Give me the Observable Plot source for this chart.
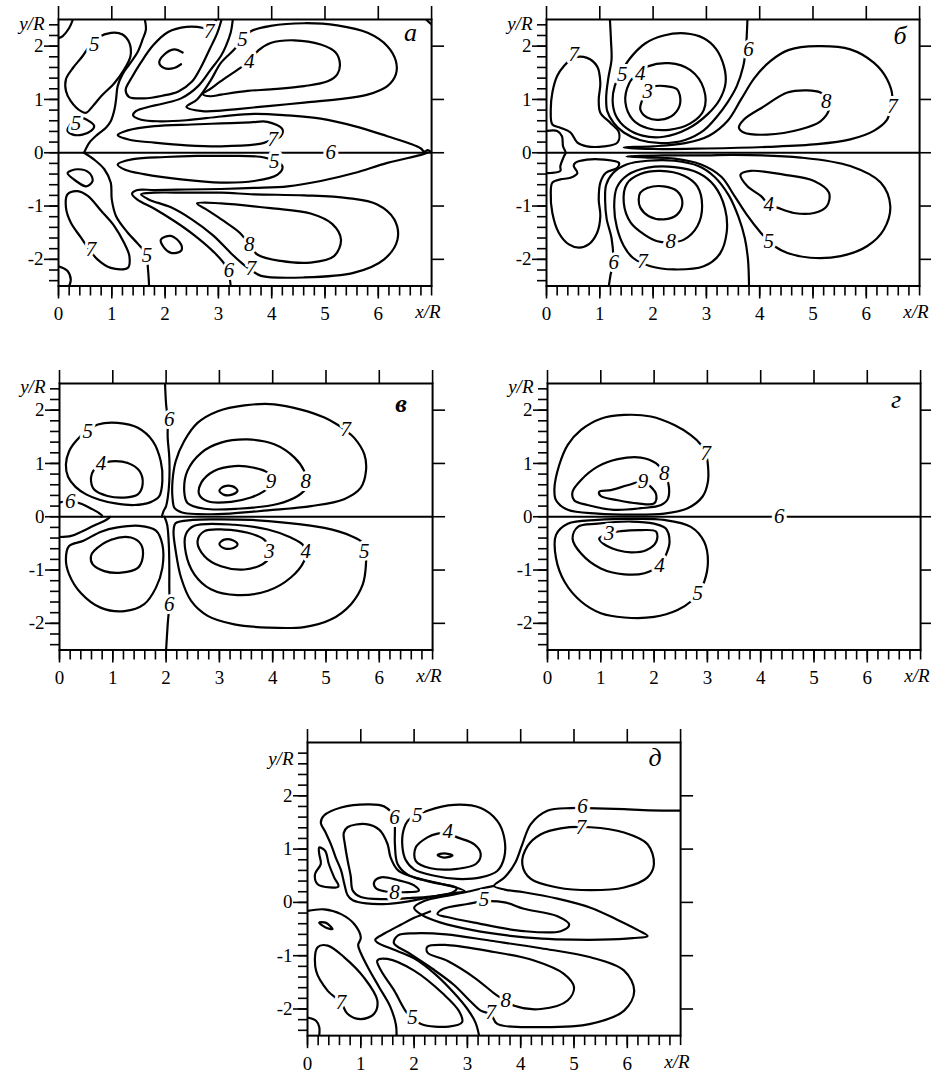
<!DOCTYPE html>
<html><head><meta charset="utf-8">
<script src="https://cdn.jsdelivr.net/npm/d3@7"></script>
<script src="https://cdn.jsdelivr.net/npm/@observablehq/plot@0.6"></script>
<style>
body{margin:0;background:#fff}
#wrap{position:relative;width:931px;height:1074px;background:#fff;overflow:hidden}
#wrap svg{position:absolute}
#wrap svg text{font-family:'Liberation Serif','Times New Roman',serif}
</style></head><body><div id="wrap"></div>
<script>
// ---- axis ticks ----
const xMajor = [0,1,2,3,4,5,6];
const xTop = [0,1,2,3,4,5,6,7];
const yMajor = [-2,-1,0,1,2];

// ---- contour lines: [closed, [x0,y0,x1,y1,...]] ; labels: [x,y,text] ----
const linesA = [
 [0,[0.27,2.5, 0.2,2.34, 0.08,2.19, 0,2.15]],
 [0,[6.9,2.5, 6.96,2.44, 7.0,2.41]],
 [1,[0.985,2.25, 1.2,2.22, 1.33,2.06, 1.35,1.81, 1.23,1.56, 1.05,1.31, 0.8,1.06, 0.64,0.87, 0.52,0.75, 0.42,0.78, 0.23,0.97, 0.14,1.16, 0.14,1.38, 0.27,1.59, 0.45,1.81, 0.58,2.0, 0.74,2.16]],
 [1,[0.42,0.66, 0.58,0.59, 0.67,0.5, 0.61,0.41, 0.45,0.34, 0.27,0.34, 0.17,0.41, 0.2,0.5, 0.3,0.6]],
 [0,[0.48,0.0, 0.58,0.19, 0.73,0.34, 0.89,0.47, 0.98,0.59, 1.05,0.81, 1.08,1.0, 1.11,1.25, 1.2,1.47, 1.33,1.66, 1.48,1.88, 1.58,2.13, 1.64,2.31, 1.62,2.5]],
 [0,[2.96,2.5, 2.9,2.38, 2.83,2.3, 2.72,2.34, 2.4,2.36, 2.05,2.26, 1.78,2.02, 1.55,1.7, 1.38,1.42, 1.26,1.18, 1.32,1.05, 1.6,1.02, 1.95,1.07, 2.25,1.15, 2.5,1.33, 2.67,1.6, 2.84,1.95, 2.98,2.25, 3.06,2.5]],
 [0,[2.33,1.88, 2.17,1.94, 1.98,1.84, 1.89,1.69, 1.98,1.59, 2.17,1.59, 2.3,1.66]],
 [0,[3.27,2.5, 3.23,2.25, 3.14,2.0, 3.05,1.82, 2.85,1.55, 2.62,1.25, 2.3,1.02, 1.95,0.92, 1.65,0.85, 1.45,0.78, 1.4,0.7, 1.55,0.62, 1.9,0.59, 2.4,0.61, 3.05,0.68, 3.67,0.73, 4.3,0.7, 4.92,0.64, 5.55,0.5, 6.17,0.31, 6.6,0.17, 6.8,0.08, 6.86,0.02, 6.93,0.05, 7.0,0.0]],
 [1,[2.4,0.86, 2.6,1.0, 2.85,1.35, 3.05,1.69, 3.3,1.94, 3.42,2.1, 3.61,2.28, 3.98,2.38, 4.61,2.43, 5.23,2.39, 5.8,2.25, 6.17,2.0, 6.33,1.72, 6.33,1.47, 6.17,1.25, 5.8,1.09, 5.23,1.0, 4.61,0.94, 3.98,0.88, 3.36,0.82, 3.05,0.79, 2.7,0.78]],
 [1,[2.71,1.1, 2.85,1.2, 3.1,1.38, 3.35,1.55, 3.58,1.72, 3.75,1.92, 3.98,2.06, 4.42,2.11, 4.92,2.03, 5.2,1.88, 5.28,1.66, 5.23,1.47, 5.05,1.34, 4.61,1.25, 3.98,1.19, 3.55,1.16, 3.05,1.09, 2.85,1.06]],
 [1,[1.11,0.33, 1.3,0.42, 1.8,0.5, 2.5,0.53, 3.05,0.55, 3.6,0.57, 3.92,0.58, 4.2,0.44, 4.17,0.31, 3.95,0.22, 3.8,0.17, 3.05,0.12, 2.4,0.14, 1.8,0.19, 1.35,0.24]],
 [0,[0,0, 7,0]],
 [1,[1.11,-0.22, 1.4,-0.12, 2.0,-0.08, 2.6,-0.06, 3.05,-0.06, 3.86,-0.09, 4.2,-0.25, 4.11,-0.41, 3.67,-0.53, 3.05,-0.56, 2.3,-0.5, 1.6,-0.4, 1.25,-0.32]],
 [0,[6.92,0.0, 6.8,-0.04, 6.17,-0.19, 5.55,-0.38, 4.92,-0.53, 4.3,-0.63, 3.67,-0.66, 3.05,-0.68, 2.4,-0.69, 1.8,-0.7, 1.48,-0.7, 1.38,-0.77, 1.48,-0.88, 1.8,-1.05, 2.2,-1.3, 2.55,-1.55, 2.9,-1.85, 3.12,-2.1, 3.21,-2.35, 3.23,-2.5]],
 [1,[1.55,-0.78, 1.8,-0.75, 2.4,-0.75, 3.05,-0.75, 3.67,-0.78, 4.61,-0.8, 5.42,-0.85, 5.98,-0.97, 6.3,-1.25, 6.36,-1.63, 6.11,-2.0, 5.55,-2.25, 4.61,-2.34, 3.8,-2.31, 3.61,-2.2, 3.45,-2.08, 3.25,-1.9, 2.9,-1.55, 2.5,-1.25, 2.1,-1.02, 1.7,-0.88]],
 [1,[2.6,-0.95, 3.05,-0.95, 3.98,-1.04, 4.73,-1.14, 5.14,-1.34, 5.3,-1.63, 5.17,-1.94, 4.73,-2.06, 4.17,-2.03, 3.73,-1.91, 3.58,-1.72, 3.4,-1.5, 3.1,-1.28, 2.8,-1.08]],
 [1,[0.73,-2.0, 0.98,-2.16, 1.3,-2.16, 1.33,-1.94, 1.23,-1.69, 1.05,-1.38, 0.8,-1.09, 0.55,-0.81, 0.36,-0.72, 0.17,-0.78, 0.14,-1.03, 0.23,-1.31, 0.42,-1.59, 0.55,-1.78]],
 [1,[0.17,-0.38, 0.36,-0.31, 0.58,-0.38, 0.64,-0.53, 0.52,-0.63, 0.33,-0.53]],
 [0,[0,-2.13, 0.17,-2.22, 0.23,-2.38, 0.2,-2.5]],
 [0,[0.48,0, 0.67,-0.13, 0.86,-0.31, 0.98,-0.56, 1.0,-0.88, 1.08,-1.19, 1.3,-1.5, 1.5,-1.72, 1.64,-1.9, 1.68,-2.2, 1.7,-2.5]],
 [1,[1.92,-1.63, 2.11,-1.56, 2.3,-1.72, 2.3,-1.84, 2.11,-1.88, 1.98,-1.78]]
];
const labelsA = [[0.67,2.03,"5"],[0.33,0.56,"5"],[2.83,2.28,"7"],[3.45,2.13,"5"],[3.58,1.72,"4"],[4.02,0.25,"7"],[5.11,0,"6"],[4.05,-0.16,"5"],[3.58,-1.72,"8"],[3.61,-2.16,"7"],[3.2,-2.2,"6"],[0.61,-1.81,"7"],[1.66,-1.92,"5"]];

const linesB = [
 [1,[0.76,1.78, 0.95,1.62, 1.01,1.31, 0.98,1.0, 1.01,0.75, 1.2,0.56, 1.36,0.38, 1.33,0.19, 1.08,0.12, 0.76,0.12, 0.58,0.19, 0.45,0.38, 0.26,0.47, 0.11,0.53, 0.08,0.81, 0.11,1.13, 0.2,1.44, 0.32,1.62, 0.51,1.78]],
 [0,[0,0.41, 0.2,0.41, 0.29,0.31, 0.31,0.12, 0.36,0.0, 0.33,-0.06, 0.26,-0.25, 0.26,-0.34, 0.08,-0.38, 0,-0.38]],
 [0,[1.19,2.5, 1.21,2.1, 1.22,1.75, 1.16,1.4, 1.12,1.05, 1.14,0.78, 1.26,0.56, 1.45,0.38, 1.75,0.24, 2.15,0.18, 2.6,0.24, 2.95,0.42, 3.2,0.68, 3.4,0.95, 3.57,1.25, 3.69,1.62, 3.74,1.94, 3.76,2.26, 3.77,2.5]],
 [1,[1.55,1.75, 1.85,2.05, 2.2,2.2, 2.6,2.24, 2.95,2.15, 3.18,1.95, 3.33,1.62, 3.36,1.31, 3.25,1.0, 3.02,0.72, 2.65,0.45, 2.2,0.3, 1.8,0.32, 1.5,0.46, 1.3,0.7, 1.24,0.98, 1.28,1.25, 1.4,1.5]],
 [1,[1.9,1.62, 2.3,1.68, 2.7,1.55, 2.95,1.2, 2.95,0.8, 2.7,0.55, 2.3,0.43, 1.9,0.46, 1.62,0.62, 1.48,0.95, 1.55,1.3, 1.72,1.5]],
 [1,[2.0,1.24, 2.23,1.25, 2.45,1.19, 2.51,0.94, 2.39,0.72, 2.14,0.62, 1.89,0.66, 1.76,0.81, 1.8,1.0, 1.86,1.14]],
 [1,[1.45,0.1, 2.0,0.12, 2.6,0.18, 3.05,0.32, 3.4,0.6, 3.65,1.0, 3.9,1.4, 4.2,1.72, 4.55,1.93, 5.08,2.0, 5.7,1.94, 6.14,1.69, 6.39,1.38, 6.49,1.05, 6.45,0.85, 6.39,0.62, 6.14,0.41, 5.7,0.25, 5.08,0.16, 4.14,0.11, 3.0,0.08, 2.0,0.07]],
 [1,[5.14,1.13, 4.89,1.17, 4.52,1.13, 4.08,0.87, 3.7,0.62, 3.61,0.47, 3.7,0.38, 4.14,0.34, 4.77,0.44, 5.14,0.59, 5.3,0.81, 5.27,1.0]],
 [1,[0.54,-0.19, 0.76,-0.13, 1.08,-0.13, 1.36,-0.19, 1.33,-0.28, 1.11,-0.38, 1.01,-0.56, 0.98,-0.88, 1.01,-1.19, 0.95,-1.5, 0.79,-1.72, 0.61,-1.78, 0.42,-1.72, 0.23,-1.5, 0.11,-1.13, 0.08,-0.75, 0.11,-0.56, 0.26,-0.5, 0.45,-0.47, 0.58,-0.38, 0.51,-0.25]],
 [0,[1.17,-2.5, 1.2,-2.3, 1.25,-2.06, 1.22,-1.6, 1.13,-1.25, 1.1,-0.9, 1.12,-0.6, 1.25,-0.38, 1.5,-0.22, 1.9,-0.15, 2.4,-0.15, 2.85,-0.25, 3.15,-0.45, 3.42,-0.8, 3.6,-1.2, 3.72,-1.6, 3.78,-2.0, 3.8,-2.5]],
 [1,[1.95,-2.13, 2.39,-2.19, 2.95,-2.13, 3.25,-1.9, 3.38,-1.5, 3.35,-1.05, 3.15,-0.62, 2.85,-0.38, 2.4,-0.27, 1.9,-0.28, 1.52,-0.42, 1.32,-0.65, 1.27,-1.0, 1.32,-1.4, 1.45,-1.75, 1.62,-1.97]],
 [1,[2.58,-1.63, 2.83,-1.38, 2.92,-1.0, 2.83,-0.63, 2.58,-0.43, 2.14,-0.34, 1.76,-0.4, 1.51,-0.58, 1.45,-0.94, 1.58,-1.31, 1.83,-1.53, 2.08,-1.66, 2.33,-1.68]],
 [1,[1.76,-0.75, 1.89,-0.66, 2.2,-0.63, 2.45,-0.72, 2.55,-0.94, 2.45,-1.16, 2.2,-1.25, 1.92,-1.19, 1.76,-1.03, 1.73,-0.88]],
 [1,[1.5,-0.07, 2.2,-0.05, 3.0,-0.05, 3.51,-0.04, 4.77,-0.09, 5.7,-0.25, 6.27,-0.56, 6.45,-1.0, 6.33,-1.44, 6.02,-1.75, 5.52,-1.94, 4.95,-1.97, 4.52,-1.88, 4.27,-1.75, 4.17,-1.66, 4.02,-1.5, 3.75,-1.15, 3.52,-0.8, 3.28,-0.45, 2.9,-0.22, 2.4,-0.11, 1.9,-0.09]],
 [1,[3.64,-0.41, 3.83,-0.34, 4.45,-0.41, 5.02,-0.53, 5.3,-0.75, 5.26,-1.0, 5.02,-1.13, 4.64,-1.13, 4.33,-1.03, 4.17,-0.97, 4.02,-0.81, 3.77,-0.63]],
 [0,[0,0, 7,0]]
];
const labelsB = [[0.51,1.84,"7"],[3.79,1.94,"6"],[1.42,1.47,"5"],[1.76,1.5,"4"],[1.9,1.15,"3"],[6.49,0.87,"7"],[5.25,0.97,"8"],[1.26,-2.06,"6"],[1.8,-2.03,"7"],[2.33,-1.66,"8"],[4.17,-1.66,"5"],[4.17,-0.97,"4"]];

const linesV = [
 [0,[1.98,2.5, 2.0,2.11, 2.03,1.83, 2.03,1.48, 2.06,1.11, 2.06,0.67, 2.03,0.35, 2.0,0.2, 1.95,0.1, 1.92,0.0]],
 [0,[1.97,0, 2.02,-0.15, 2.05,-0.5, 2.06,-0.9, 2.06,-1.27, 2.06,-1.64, 2.03,-2.02, 2.0,-2.5]],
 [0,[0,0.27, 0.22,0.29, 0.42,0.24, 0.6,0.15, 0.74,0.07, 0.8,0.02, 0.79,0.0]],
 [0,[0,-0.38, 0.22,-0.36, 0.43,-0.27, 0.66,-0.16, 0.84,-0.08, 0.93,-0.02, 0.95,0]],
 [1,[0.72,1.73, 1.09,1.76, 1.47,1.67, 1.75,1.42, 1.9,1.04, 1.93,0.67, 1.87,0.38, 1.7,0.27, 1.4,0.22, 1.05,0.25, 0.75,0.32, 0.5,0.42, 0.3,0.56, 0.16,0.75, 0.12,0.98, 0.18,1.23, 0.31,1.42, 0.5,1.6]],
 [1,[0.97,1.04, 1.28,1.01, 1.5,0.86, 1.56,0.61, 1.47,0.42, 1.22,0.36, 0.9,0.39, 0.65,0.51, 0.59,0.73, 0.65,0.89, 0.78,1.0]],
 [1,[0.18,-0.55, 0.45,-0.45, 0.78,-0.28, 1.09,-0.2, 1.5,-0.17, 1.81,-0.26, 1.93,-0.52, 1.93,-0.96, 1.81,-1.33, 1.59,-1.64, 1.22,-1.77, 0.78,-1.71, 0.4,-1.43, 0.18,-1.08, 0.12,-0.8]],
 [1,[0.65,-0.64, 0.97,-0.43, 1.34,-0.39, 1.53,-0.52, 1.56,-0.77, 1.47,-0.96, 1.16,-1.05, 0.84,-1.02, 0.62,-0.89, 0.59,-0.74]],
 [1,[5.53,1.48, 5.72,1.17, 5.75,0.86, 5.65,0.54, 5.34,0.33, 4.72,0.2, 3.91,0.12, 3.2,0.06, 2.6,0.05, 2.3,0.08, 2.16,0.16, 2.12,0.36, 2.12,0.67, 2.18,1.04, 2.34,1.42, 2.59,1.76, 2.97,1.98, 3.47,2.09, 4.03,2.11, 4.53,2.01, 4.97,1.86, 5.21,1.73, 5.37,1.62]],
 [1,[4.59,0.86, 4.41,1.11, 4.03,1.36, 3.53,1.45, 3.03,1.39, 2.66,1.2, 2.4,0.86, 2.34,0.48, 2.4,0.26, 2.72,0.15, 3.34,0.15, 4.09,0.24, 4.47,0.39, 4.62,0.53, 4.63,0.68]],
 [1,[3.9,0.83, 3.65,0.92, 3.28,0.95, 2.9,0.86, 2.66,0.64, 2.62,0.42, 2.78,0.29, 3.22,0.28, 3.59,0.36, 3.84,0.48, 3.94,0.57, 3.97,0.68]],
 [1,[3.0,0.49, 3.09,0.57, 3.25,0.57, 3.34,0.49, 3.25,0.42, 3.09,0.41]],
 [1,[5.75,-0.89, 5.69,-1.27, 5.47,-1.64, 5.09,-1.93, 4.59,-2.07, 3.91,-2.08, 3.28,-2.02, 2.78,-1.86, 2.47,-1.58, 2.28,-1.14, 2.18,-0.64, 2.14,-0.27, 2.18,-0.12, 2.5,-0.06, 3.0,-0.05, 3.6,-0.06, 4.22,-0.11, 4.97,-0.21, 5.47,-0.36, 5.69,-0.49, 5.74,-0.66]],
 [1,[4.59,-0.83, 4.34,-1.14, 3.91,-1.39, 3.34,-1.47, 2.84,-1.36, 2.53,-1.08, 2.37,-0.68, 2.37,-0.33, 2.53,-0.17, 3.28,-0.15, 3.91,-0.24, 4.34,-0.39, 4.56,-0.52, 4.62,-0.65]],
 [1,[3.84,-0.43, 3.53,-0.3, 3.09,-0.24, 2.72,-0.27, 2.59,-0.46, 2.72,-0.74, 3.03,-0.93, 3.47,-0.99, 3.81,-0.89, 3.94,-0.77, 3.95,-0.64]],
 [1,[3.0,-0.51, 3.09,-0.43, 3.25,-0.44, 3.34,-0.52, 3.25,-0.59, 3.09,-0.59]],
 [0,[0,0, 7,0]]
];
const labelsV = [[0.53,1.61,"5"],[0.78,1.01,"4"],[0.2,0.29,"6"],[2.06,1.83,"6"],[5.37,1.64,"7"],[4.62,0.67,"8"],[3.97,0.67,"9"],[2.06,-1.64,"6"],[3.94,-0.64,"3"],[4.62,-0.64,"4"],[5.72,-0.64,"5"]];

const linesG = [
 [1,[3.01,0.97, 3.01,0.66, 2.91,0.38, 2.63,0.16, 2.19,0.06, 1.57,0.04, 0.94,0.06, 0.38,0.13, 0.16,0.31, 0.13,0.53, 0.22,0.97, 0.38,1.35, 0.63,1.63, 1.0,1.84, 1.44,1.91, 1.94,1.88, 2.38,1.72, 2.69,1.53, 2.88,1.35, 2.97,1.19]],
 [1,[2.26,0.66, 2.26,0.34, 2.13,0.22, 1.75,0.16, 1.25,0.13, 0.75,0.22, 0.5,0.31, 0.47,0.47, 0.63,0.69, 0.94,0.94, 1.32,1.08, 1.75,1.11, 2.04,1.0, 2.19,0.81]],
 [1,[1.94,0.56, 2.04,0.41, 2.0,0.25, 1.69,0.25, 1.32,0.31, 1.0,0.39, 0.97,0.47, 1.19,0.5, 1.5,0.59, 1.79,0.66]],
 [0,[0,0, 7,0]],
 [1,[2.94,-1.22, 3.01,-0.84, 2.94,-0.47, 2.69,-0.19, 2.19,-0.06, 1.57,-0.04, 0.94,-0.06, 0.38,-0.13, 0.16,-0.34, 0.16,-0.78, 0.32,-1.22, 0.63,-1.59, 1.0,-1.81, 1.44,-1.89, 2.0,-1.88, 2.44,-1.75, 2.69,-1.59, 2.82,-1.44]],
 [1,[2.22,-0.72, 2.29,-0.47, 2.22,-0.22, 2.0,-0.13, 1.57,-0.09, 0.94,-0.13, 0.57,-0.19, 0.47,-0.41, 0.63,-0.69, 1.0,-0.97, 1.44,-1.08, 1.82,-1.06, 2.1,-0.91]],
 [1,[1.38,-0.27, 1.75,-0.25, 2.04,-0.28, 2.04,-0.47, 1.85,-0.63, 1.57,-0.67, 1.32,-0.63, 1.04,-0.5, 0.97,-0.41, 1.16,-0.31]]
];
const labelsG = [[2.97,1.19,"7"],[2.19,0.81,"8"],[1.79,0.66,"9"],[4.35,0,"6"],[2.82,-1.44,"5"],[2.1,-0.91,"4"],[1.16,-0.31,"3"]];

const linesD = [
 [1,[2.81,1.22, 3.13,1.09, 3.25,0.91, 3.16,0.72, 2.81,0.63, 2.31,0.64, 2.03,0.78, 2.03,1.03, 2.25,1.22, 2.44,1.29, 2.63,1.3]],
 [1,[2.44,0.89, 2.56,0.92, 2.72,0.88, 2.56,0.84]],
 [1,[2.25,1.72, 2.75,1.83, 3.25,1.77, 3.56,1.53, 3.69,1.22, 3.69,0.84, 3.56,0.59, 3.25,0.47, 2.81,0.44, 2.38,0.5, 2.0,0.62, 1.84,0.8, 1.78,1.05, 1.8,1.35, 1.9,1.55]],
 [1,[1.63,1.59, 1.44,1.8, 1.13,1.84, 0.63,1.78, 0.31,1.63, 0.25,1.5, 0.34,1.31, 0.44,1.09, 0.53,0.84, 0.63,0.6, 0.69,0.35, 0.75,0.14, 0.85,0.04, 1.1,-0.02, 1.5,-0.03, 1.9,0.02, 2.3,0.1, 2.7,0.17, 2.95,0.21, 2.75,0.29, 2.25,0.4, 1.88,0.52, 1.69,0.72, 1.64,1.09, 1.64,1.41]],
 [1,[0.75,1.41, 1.1,1.47, 1.35,1.36, 1.5,1.1, 1.56,0.84, 1.7,0.6, 2.0,0.47, 2.5,0.35, 2.8,0.27, 2.69,0.17, 2.31,0.11, 1.88,0.08, 1.44,0.06, 1.0,0.1, 0.85,0.22, 0.81,0.5, 0.75,0.8, 0.7,1.1, 0.68,1.3]],
 [1,[1.81,0.19, 2.09,0.22, 2.0,0.32, 1.69,0.42, 1.38,0.47, 1.25,0.38, 1.28,0.27, 1.44,0.21]],
 [1,[0.22,1.03, 0.33,0.97, 0.4,0.72, 0.5,0.47, 0.58,0.3, 0.42,0.28, 0.19,0.34, 0.14,0.53, 0.25,0.72, 0.22,0.91]],
 [1,[5.31,1.41, 5.94,1.31, 6.38,1.09, 6.5,0.72, 6.38,0.47, 5.94,0.28, 5.31,0.23, 4.69,0.28, 4.19,0.44, 4.03,0.72, 4.13,1.06, 4.38,1.28, 4.75,1.39]],
 [0,[7,1.72, 6.3,1.73, 5.94,1.75, 5.25,1.77, 4.94,1.77, 4.5,1.72, 4.19,1.47, 4.03,1.09, 3.9,0.75, 3.7,0.47, 3.5,0.31, 3.7,0.24, 4.06,0.19, 4.69,0.07, 5.31,-0.1, 5.8,-0.32, 6.2,-0.52, 6.38,-0.63, 6.1,-0.67, 5.5,-0.7, 5.0,-0.7, 4.4,-0.68, 3.75,-0.62, 3.1,-0.52, 2.5,-0.38, 2.15,-0.24, 2.0,-0.1, 2.2,0.03, 2.6,0.12, 3.0,0.2, 3.3,0.27, 3.5,0.31]],
 [1,[2.44,-0.22, 2.55,-0.12, 3.0,-0.03, 3.31,0.02, 3.7,0.0, 4.06,-0.12, 4.69,-0.26, 4.91,-0.42, 4.75,-0.54, 4.06,-0.54, 3.13,-0.38, 2.6,-0.27]],
 [0,[3.22,-2.5, 3.15,-2.25, 3.0,-2.0, 2.75,-1.7, 2.4,-1.35, 2.0,-1.05, 1.6,-0.88, 1.32,-0.76, 1.27,-0.7, 1.45,-0.58, 1.75,-0.42, 2.0,-0.29, 2.3,-0.17]],
 [1,[3.25,-2.03, 3.44,-2.1, 3.56,-2.28, 4.38,-2.34, 5.31,-2.28, 5.94,-2.03, 6.13,-1.66, 5.94,-1.28, 5.31,-1.03, 4.38,-0.86, 3.44,-0.72, 2.6,-0.6, 2.0,-0.58, 1.7,-0.62, 1.62,-0.76, 1.9,-0.95, 2.35,-1.25, 2.75,-1.55, 3.05,-1.85]],
 [1,[3.88,-1.94, 4.38,-2.0, 4.88,-1.84, 5.0,-1.59, 4.81,-1.34, 4.25,-1.09, 3.5,-0.93, 2.63,-0.8, 2.25,-0.83, 2.25,-0.94, 2.63,-1.1, 3.13,-1.41, 3.56,-1.75, 3.72,-1.84]],
 [1,[1.31,-1.09, 1.5,-1.06, 2.0,-1.28, 2.55,-1.72, 2.85,-2.05, 2.9,-2.25, 2.65,-2.33, 2.13,-2.28, 1.88,-2.09, 1.63,-1.66, 1.38,-1.28]],
 [1,[0.19,-0.84, 0.38,-0.81, 0.69,-1.03, 1.06,-1.41, 1.31,-1.84, 1.25,-2.09, 1.0,-2.19, 0.75,-2.09, 0.63,-1.88, 0.38,-1.66, 0.16,-1.28]],
 [0,[0,-0.16, 0.31,-0.13, 0.63,-0.22, 0.88,-0.41, 1.0,-0.66, 0.95,-0.8, 1.0,-0.95, 1.15,-1.25, 1.35,-1.6, 1.55,-1.95, 1.66,-2.3, 1.67,-2.5]],
 [1,[0.22,-0.38, 0.34,-0.38, 0.47,-0.5, 0.34,-0.47]],
 [0,[0,-2.16, 0.16,-2.22, 0.22,-2.34, 0.22,-2.5]]
];
const labelsD = [[2.63,1.34,"4"],[2.06,1.63,"5"],[1.63,1.59,"6"],[1.63,0.19,"8"],[5.13,1.41,"7"],[5.16,1.81,"6"],[3.31,0.06,"5"],[0.63,-1.88,"7"],[1.97,-2.16,"5"],[3.72,-1.84,"8"],[3.44,-2.06,"7"]];

// ---- drawing ----
const wrap = document.getElementById("wrap");
const UNIT = 53.3;
const FONT = "'Liberation Serif','Times New Roman',serif";

function rowsOf(lines){
  const rows = [];
  lines.forEach(([closed, pts], i) => {
    for (let k = 0; k < pts.length; k += 2) rows.push({id: i, closed, x: pts[k], y: pts[k+1]});
  });
  return rows;
}

function panel({lines, labels, letter, bold, yTop, left, top, yrDy, letterDx, letterDy}){
  const ML = 60, MR = 22, MT = 22, MB = 44;
  const W = 7 * UNIT, H = (yTop + 2.5) * UNIT;
  const rows = rowsOf(lines);
  const xMinor = d3.range(0, 36).map(i => Math.round(i * 2) / 10);
  const yMinor = d3.range(-12, Math.round(yTop * 5) + 1).map(i => Math.round(i * 2) / 10).filter(v => v > -2.5 && v < yTop);
  const sw = 1.6;
  const svg = Plot.plot({
    width: ML + W + MR, height: MT + H + MB,
    marginLeft: ML, marginRight: MR, marginTop: MT, marginBottom: MB,
    style: {fontFamily: FONT, fontSize: "19px", background: "transparent", overflow: "visible", color: "#000"},
    x: {domain: [0, 7]},
    y: {domain: [-2.5, yTop]},
    marks: [
      Plot.line(rows.filter(d => d.closed), {x: "x", y: "y", z: "id", curve: "catmull-rom-closed", stroke: "#000", strokeWidth: 2.2, clip: true}),
      Plot.line(rows.filter(d => !d.closed), {x: "x", y: "y", z: "id", curve: "catmull-rom", stroke: "#000", strokeWidth: 2.2, clip: true}),
      Plot.text(labels, {x: d => d[0], y: d => d[1], text: d => d[2], fontStyle: "italic", fontSize: 21, fontFamily: FONT, fill: "#000", stroke: "#fff", strokeWidth: 6}),
      Plot.frame({stroke: "#000", strokeWidth: 2}),
      Plot.axisX({anchor: "bottom", ticks: xMinor, tickSize: 10, tickFormat: () => "", strokeWidth: sw, label: null}),
      Plot.axisX({anchor: "bottom", ticks: xMajor, tickSize: 13, tickPadding: 8, tickFormat: d => String(d), strokeWidth: sw, fontSize: 19, fontFamily: FONT, label: null}),
      Plot.axisX({anchor: "top", ticks: xTop, tickSize: 14, tickFormat: () => "", strokeWidth: sw, label: null}),
      Plot.axisY({anchor: "left", ticks: yMinor, tickSize: 9, tickFormat: () => "", strokeWidth: sw, label: null}),
      Plot.axisY({anchor: "left", ticks: yMajor, tickSize: 14, tickPadding: 1, tickFormat: d => String(d), strokeWidth: sw, fontSize: 19, fontFamily: FONT, label: null}),
      Plot.axisY({anchor: "right", ticks: yMajor, tickSize: 12, tickFormat: () => "", strokeWidth: sw, label: null}),
      Plot.text(["y/R"], {text: d => d, frameAnchor: "top-left", dx: -14, dy: yrDy, textAnchor: "end", lineAnchor: "middle", fontStyle: "italic", fontSize: 19, fontFamily: FONT}),
      Plot.text(["x/R"], {text: d => d, frameAnchor: "bottom-right", dx: 9, dy: 26, textAnchor: "end", lineAnchor: "middle", fontStyle: "italic", fontSize: 19, fontFamily: FONT}),
      Plot.text([letter], {text: d => d, frameAnchor: "top-right", dx: letterDx, dy: letterDy, textAnchor: "middle", lineAnchor: "middle", fontStyle: "italic", fontWeight: bold ? "bold" : "normal", fontSize: 26, fontFamily: FONT})
    ]
  });
  svg.style.left = (left - ML) + "px";
  svg.style.top = (top - MT) + "px";
  wrap.appendChild(svg);
}

panel({lines: linesA, labels: labelsA, letter: "а", yTop: 2.5, left: 57.5, top: 19, yrDy: 4, letterDx: -21, letterDy: 13});
panel({lines: linesB, labels: labelsB, letter: "б", yTop: 2.5, left: 546, top: 19, yrDy: 4, letterDx: -19.5, letterDy: 16});
panel({lines: linesV, labels: labelsV, letter: "в", bold: true, yTop: 2.5, left: 58.5, top: 383, yrDy: 3, letterDx: -31.5, letterDy: 20});
panel({lines: linesG, labels: labelsG, letter: "г", yTop: 2.5, left: 546.5, top: 382.5, yrDy: 3, letterDx: -24.5, letterDy: 16});
panel({lines: linesD, labels: labelsD, letter: "д", yTop: 3.0, left: 306.7, top: 742.3, yrDy: 16, letterDx: -25.5, letterDy: 15});
</script></body></html>
